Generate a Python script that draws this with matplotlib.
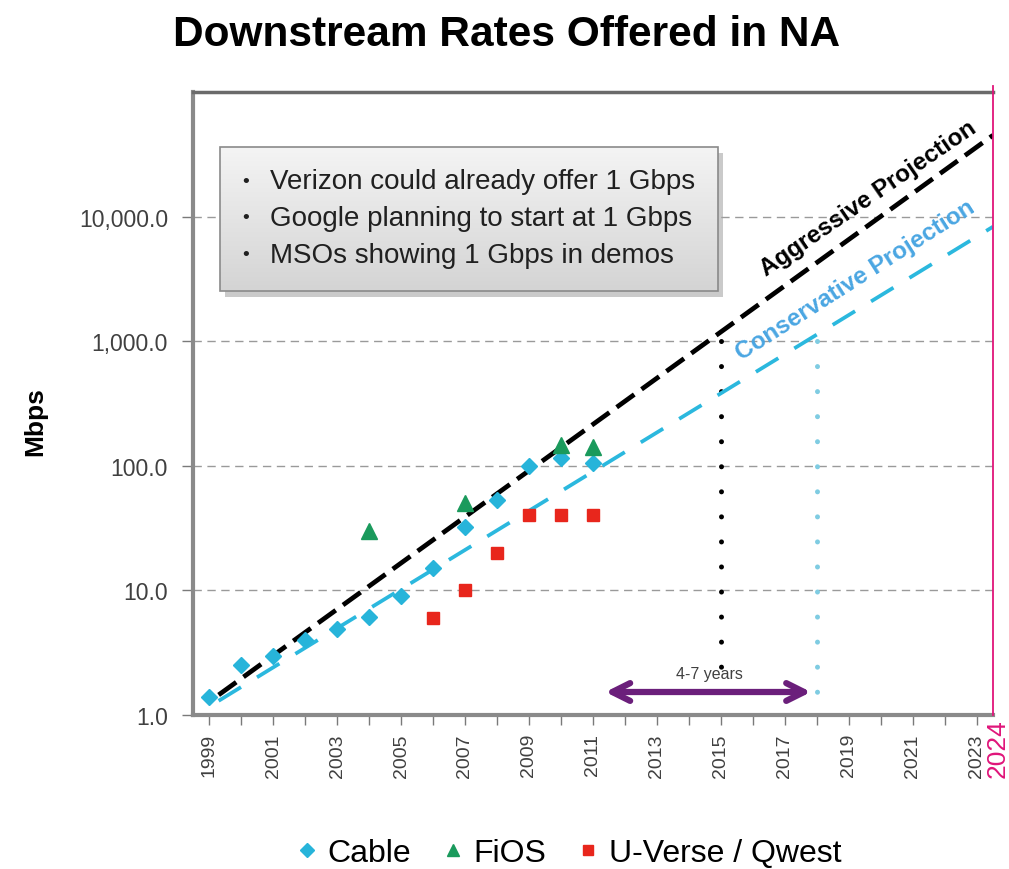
import matplotlib
matplotlib.use("Agg")
import matplotlib.pyplot as plt
from matplotlib.lines import Line2D
from matplotlib.patches import Rectangle
import numpy as np

# data
cable_years = [1999, 2000, 2001, 2002, 2003, 2004, 2005, 2006, 2007, 2008, 2009, 2010, 2011]
cable_mbps = [1.4, 2.5, 3.0, 4.0, 4.9, 6.1, 9.0, 15, 32, 53, 100, 115, 105]
fios_years = [2004, 2007, 2010, 2011]
fios_mbps = [30, 50, 147, 142]
uverse_years = [2006, 2007, 2008, 2009, 2010, 2011]
uverse_mbps = [6, 10, 20, 40, 40, 40]

aggressive_years = [1999.3, 2023.5]
aggressive_mbps = [1.45, 45000]
conservative_years = [1999.3, 2023.5]
conservative_mbps = [1.3, 8300]

gbps_year_aggr = 2015
gbps_year_cons = 2018
gbps_level = 1000

y_ticks = [1, 10, 100, 1000, 10000]
y_tick_labels = ["1.0", "10.0", "100.0", "1,000.0", "10,000.0"]
all_years = list(range(1999, 2024))
bullets = ["Verizon could already offer 1 Gbps",
           "Google planning to start at 1 Gbps",
           "MSOs showing 1 Gbps in demos"]

plt.rcParams["font.family"] = ["Liberation Sans", "DejaVu Sans"]

CABLE_C = "#27b4da"
FIOS_C = "#1a9a5c"
UVERSE_C = "#e8261c"
PINK = "#e0157a"
TICK_C = "#404040"

fig = plt.figure(figsize=[10.09, 8.70], dpi=100)
ax = fig.add_axes([0.1913, 0.177, 0.7928, 0.716])
ax.set_yscale("log")
ax.set_ylim(1, 100000)
ax.set_xlim(1998.5, 2023.5)

# grid (dashed decades)
for v in y_ticks[1:]:
    ax.axhline(v, color="#9a9a9a", lw=1.0, ls=(0, (6, 4)), zorder=1)

# projections
ax.plot(aggressive_years, aggressive_mbps, color="black", lw=3.4,
        dashes=(4.6, 1.9), zorder=3)
ax.plot(conservative_years, conservative_mbps, color="#2bb8de", lw=2.7,
        dashes=(7, 5), zorder=3)

# 1 Gbps markers (drawn top-down so the first dot sits on the 1,000 line)
ax.plot([gbps_year_aggr, gbps_year_aggr], [gbps_level, 1], color="black", lw=3.6,
        dashes=(0.01, 5.0), dash_capstyle="round", zorder=2)
ax.plot([gbps_year_cons, gbps_year_cons], [gbps_level, 1], color="#7fcce2", lw=3.6,
        dashes=(0.01, 5.0), dash_capstyle="round", zorder=2)

# data points
ax.plot(cable_years, cable_mbps, ls="none", marker="D", ms=8.5, color=CABLE_C, zorder=4)
ax.plot(fios_years, fios_mbps, ls="none", marker="^", ms=11, color=FIOS_C, zorder=5)
ax.plot(uverse_years, uverse_mbps, ls="none", marker="s", ms=9, color=UVERSE_C, zorder=4)

# projection labels
ax.text(2019.6, 14300, "Aggressive Projection", rotation=34.5, ha="center", va="center",
        fontsize=17.5, fontweight="bold", color="black", zorder=6)
ax.text(2019.2, 3150, "Conservative Projection", rotation=32.5, ha="center", va="center",
        fontsize=17.5, fontweight="bold", color="#4aa6e2", zorder=6)

# 4-7 years arrow
ax.annotate("", xy=(2017.9, 1.53), xytext=(2011.3, 1.53),
            arrowprops=dict(arrowstyle="<->", color="#6b1f7b", lw=4.5, mutation_scale=32),
            zorder=6)
ax.text(2014.65, 2.15, "4-7 years", ha="center", va="center", fontsize=11.5,
        color=TICK_C, zorder=6)

# bullet box with gradient and shadow
x0, x1, y0, y1 = 0.034, 0.656, 0.681, 0.912
ax.add_patch(Rectangle((x0 + 0.006, y0 - 0.010), x1 - x0, y1 - y0, transform=ax.transAxes,
                       facecolor="#a0a0a0", edgecolor="none", alpha=0.55, zorder=6))
grad = np.linspace(0, 1, 100).reshape(-1, 1)
ax.imshow(grad, cmap=matplotlib.colors.LinearSegmentedColormap.from_list("g", ["#f4f4f4", "#d4d4d4"]),
          extent=[x0, x1, y0, y1], transform=ax.transAxes, aspect="auto", origin="upper", zorder=7)
ax.add_patch(Rectangle((x0, y0), x1 - x0, y1 - y0, transform=ax.transAxes,
                       facecolor="none", edgecolor="#8a8a8a", lw=1.2, zorder=8))
for i, line in enumerate(bullets):
    yy = 0.857 - i * 0.059
    ax.text(0.066, yy, "\u2022", transform=ax.transAxes, ha="center", va="center",
            fontsize=14, color="#202020", zorder=9)
    ax.text(0.096, yy, line, transform=ax.transAxes, ha="left", va="center",
            fontsize=20, color="#202020", zorder=9)

# axes styling
ax.set_yticks(y_ticks)
ax.set_yticklabels(y_tick_labels)
ax.yaxis.set_minor_locator(matplotlib.ticker.NullLocator())
ax.set_xticks(all_years)
ax.set_xticklabels([str(y) if y % 2 == 1 else "" for y in all_years], rotation=90)
ax.tick_params(axis="y", labelsize=16.5, labelcolor=TICK_C, color="#7a7a7a", length=8, width=1, pad=10)
ax.tick_params(axis="x", labelsize=14, labelcolor=TICK_C, color="#7a7a7a", length=7, width=1, pad=6)
for side in ["left", "bottom"]:
    ax.spines[side].set_color("#8a8a8a")
    ax.spines[side].set_linewidth(3)
ax.spines["top"].set_color("#6a6a6a")
ax.spines["top"].set_linewidth(2.5)
ax.spines["right"].set_visible(False)

# pink 2024 marker
ax.axvline(2023.5, ymin=0, ymax=1.01, color=PINK, lw=1.3, clip_on=False, zorder=10)
ax.text(2023.66, -0.005, "2024", rotation=90, ha="center", va="top", fontsize=19,
        color=PINK, transform=ax.get_xaxis_transform(), clip_on=False)

# titles
fig.text(0.502, 0.96, "Downstream Rates Offered in NA", ha="center", va="center",
         fontsize=30.5, fontweight="bold")
fig.text(0.035, 0.515, "Mbps", rotation=90, ha="center", va="center",
         fontsize=19, fontweight="bold")

# legend
handles = [Line2D([], [], ls="none", marker="D", ms=7, color=CABLE_C),
           Line2D([], [], ls="none", marker="^", ms=8, color=FIOS_C),
           Line2D([], [], ls="none", marker="s", ms=7, color=UVERSE_C)]
fig.legend(handles, ["Cable", "FiOS", "U-Verse / Qwest"], loc="center", ncol=3,
           bbox_to_anchor=(0.564, 0.018), frameon=False, handlelength=0.6,
           handletextpad=0.35, columnspacing=1.0, prop={"size": 23})

fig.savefig("out.png", dpi=100)
